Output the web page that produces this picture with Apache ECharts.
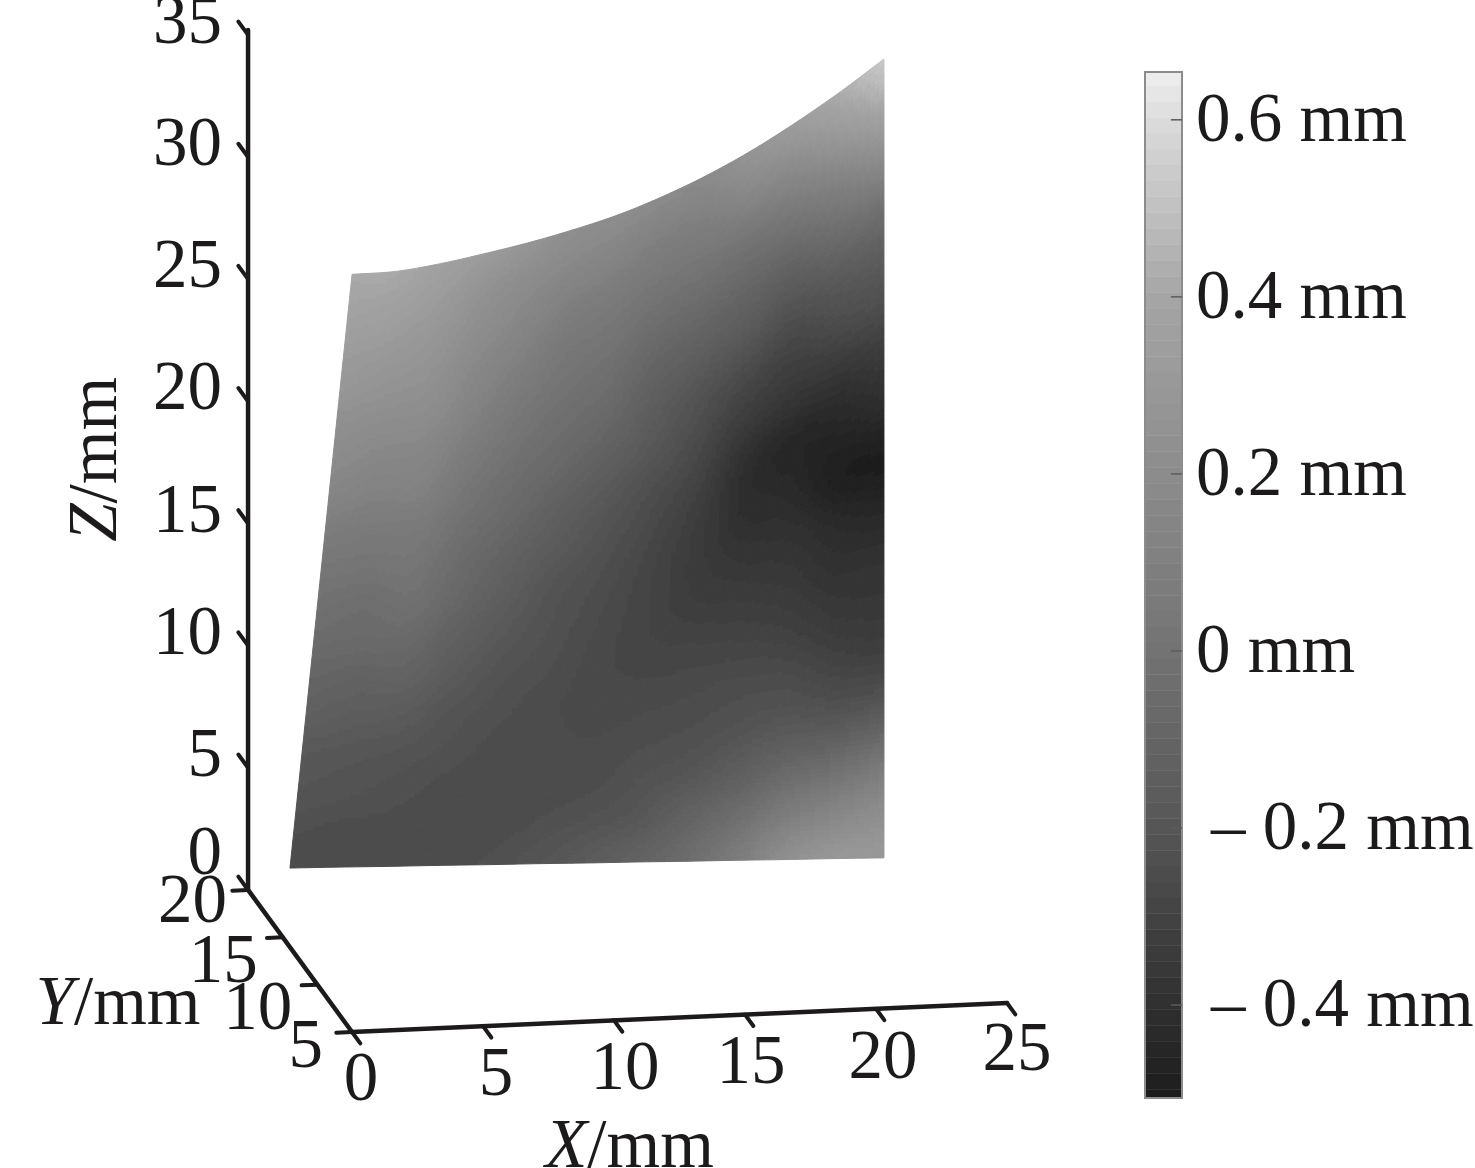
<!DOCTYPE html>
<html><head><meta charset="utf-8">
<style>html,body{margin:0;padding:0;background:#fff}#c{width:1475px;height:1168px;filter:blur(0.6px)}</style>
<script src="https://cdn.jsdelivr.net/npm/echarts@6/dist/echarts.min.js"></script>
</head><body><div id="c"></div>
<script>
// ---- data ----
const xTicks = [0, 5, 10, 15, 20, 25];
const yTicks = [5, 10, 15, 20];
const zTicks = [0, 5, 10, 15, 20, 25, 30, 35];
const barTicks = [-0.4, -0.2, 0, 0.2, 0.4, 0.6];
const barLabels = ['– 0.4 mm', '– 0.2 mm', '0 mm', '0.2 mm', '0.4 mm', '0.6 mm'];
// surface outline in mm (on the Y = 20 plane of the projection)
const topX = [3.97, 5.65, 7.37, 9.05, 10.73, 12.40, 14.12, 15.80, 17.48, 19.20, 20.88, 22.60, 24.27];
const topZ = [25.01, 25.05, 25.29, 25.62, 25.99, 26.43, 26.96, 27.62, 28.40, 29.34, 30.40, 31.59, 32.86];
const bottomX = [1.60, 3.49, 5.38, 7.27, 9.16, 11.05, 12.93, 14.82, 16.71, 18.60, 20.49, 22.38, 24.27];
const bottomZ = [0.82, 0.77, 0.71, 0.66, 0.60, 0.55, 0.49, 0.44, 0.38, 0.33, 0.27, 0.22, 0.16];
// deviation in mm: one list per column, left to right; each runs from the top edge down
const col00 = [.41,.38,.33,.29,.23,.19,.14,.07,.02,-.02,-.06,-.10,-.14,-.19,-.21,-.24,-.26];
const col01 = [.41,.36,.31,.26,.21,.16,.11,.05,.01,-.04,-.07,-.12,-.16,-.20,-.22,-.25,-.26];
const col02 = [.36,.32,.275,.24,.20,.15,.11,.05,.015,-.02,-.07,-.115,-.17,-.21,-.235,-.25,-.26];
const col03 = [.32,.25,.21,.165,.125,.075,.03,-.015,-.055,-.085,-.13,-.17,-.21,-.23,-.25,-.255,-.25];
const col04 = [.265,.20,.15,.10,.05,.01,-.035,-.07,-.115,-.15,-.185,-.215,-.235,-.25,-.26,-.255,-.24];
const col05 = [.215,.16,.09,.035,0,-.04,-.08,-.13,-.17,-.21,-.225,-.24,-.255,-.255,-.255,-.24,-.21];
const col06 = [.20,.135,.06,.01,-.035,-.08,-.13,-.185,-.22,-.245,-.26,-.27,-.27,-.26,-.25,-.22,-.17];
const col07 = [.185,.10,.03,-.035,-.10,-.15,-.19,-.24,-.27,-.29,-.295,-.29,-.27,-.25,-.225,-.19,-.115];
const col08 = [.185,.10,.02,-.06,-.135,-.21,-.255,-.295,-.33,-.34,-.33,-.295,-.265,-.24,-.20,-.115,-.05];
const col09 = [.265,.155,.01,-.085,-.17,-.26,-.33,-.40,-.41,-.38,-.34,-.30,-.255,-.22,-.15,-.04,.065];
const col10 = [.33,.185,.035,-.10,-.215,-.30,-.37,-.45,-.43,-.39,-.355,-.315,-.26,-.20,-.085,.065,.215];
const col11 = [.425,.285,.10,-.05,-.185,-.27,-.38,-.45,-.49,-.43,-.39,-.35,-.295,-.21,-.05,.135,.285];
const col12 = [.53,.40,.20,-.02,-.16,-.25,-.35,-.42,-.50,-.45,-.39,-.36,-.31,-.19,.02,.20,.30];
const columns = [col00,col01,col02,col03,col04,col05,col06,col07,col08,col09,col10,col11,col12];
const deviation = col00.map((_, r) => columns.map(c => c[r]));
// colour bar: value -> gray level
const rampValues = [-0.505, -0.4, -0.2, 0, 0.2, 0.4, 0.6, 0.654];
const rampGrays  = [28, 48, 86, 115, 140, 165, 220, 238];

// ---- styling ----
const FONT = '"Liberation Serif", "Times New Roman", serif';
const INK = '#1c1a1b', FS = 69, BAND = 0.018, SUB = 10;

function grayOf(v) {
  v = Math.round(v / BAND) * BAND;
  let g = rampGrays[rampGrays.length - 1];
  if (v <= rampValues[0]) g = rampGrays[0];
  else for (let i = 1; i < rampValues.length; i++) {
    if (v <= rampValues[i]) {
      const f = (v - rampValues[i - 1]) / (rampValues[i] - rampValues[i - 1]);
      g = rampGrays[i - 1] + f * (rampGrays[i] - rampGrays[i - 1]);
      break;
    }
  }
  g = Math.round(g);
  return 'rgb(' + g + ',' + g + ',' + g + ')';
}
// oblique projection of (X, Y, Z) mm on the flat scene axes
function project(X, Y, Z) {
  return [X - 0.2645 * (Y - 5), Z + 0.0475 * X + 0.3876 * (Y - 5)];
}
function cr(a, b, c, d, t) {
  return 0.5 * (2 * b + (c - a) * t + (2 * a - 5 * b + 4 * c - d) * t * t + (3 * b - a - 3 * c + d) * t * t * t);
}
function smooth1(arr, p) {
  const n = arr.length, i = Math.min(n - 2, Math.floor(p)), t = p - i;
  const a = i > 0 ? arr[i - 1] : 2 * arr[0] - arr[1];
  const d = i + 2 < n ? arr[i + 2] : 2 * arr[n - 1] - arr[n - 2];
  return cr(a, arr[i], arr[i + 1], d, t);
}
function smooth2(m, col, row) {
  const n = m.length, i = Math.min(n - 2, Math.floor(row)), t = row - i;
  const at = r => smooth1(m[Math.max(0, Math.min(n - 1, r))], col);
  return cr(at(i - 1), at(i), at(i + 1), at(i + 2), t);
}
function surfacePoint(col, row, api) {
  const t = 1 - row / (deviation.length - 1);
  const X = smooth1(bottomX, col) * (1 - t) + smooth1(topX, col) * t;
  const Z = smooth1(bottomZ, col) * (1 - t) + smooth1(topZ, col) * t;
  return api.coord(project(X, 20, Z));
}
const cells = [];
for (let r = 0; r < deviation.length - 1; r++)
  for (let c = 0; c < topX.length - 1; c++) cells.push([c, r]);

function renderCell(params, api) {
  const c = api.value(0), r = api.value(1), children = [];
  for (let a = 0; a < SUB; a++) for (let b = 0; b < SUB; b++) {
    const c0 = c + a / SUB, c1 = c + (a + 1) / SUB, r0 = r + b / SUB, r1 = r + (b + 1) / SUB;
    const col = grayOf(smooth2(deviation, (c0 + c1) / 2, (r0 + r1) / 2));
    children.push({
      type: 'polygon',
      shape: { points: [surfacePoint(c0, r0, api), surfacePoint(c1, r0, api), surfacePoint(c1, r1, api), surfacePoint(c0, r1, api)] },
      style: { fill: col, stroke: col, lineWidth: 1 }
    });
  }
  return { type: 'group', children };
}

// axis furniture, all positioned through project() and the scene axes
const LW = 4.5, TW = 4;
function line(api, a, b, w) {
  const p = api.coord(project(a[0], a[1], a[2])), q = api.coord(project(b[0], b[1], b[2]));
  return { type: 'line', shape: { x1: p[0], y1: p[1], x2: q[0], y2: q[1] }, style: { stroke: INK, lineWidth: w, lineCap: 'round' } };
}
function label(api, a, txt, dx, dy, align) {
  const p = api.coord(project(a[0], a[1], a[2]));
  return { type: 'text', x: p[0] + dx, y: p[1] + dy,
    style: { text: txt, font: FS + 'px ' + FONT, fill: INK, align: align, verticalAlign: 'middle' } };
}
const yLabelShift = { 20: [-21, 14], 15: [-25, 27], 10: [-25, 26], 5: [-29, 17] };
const xLabelShift = { 0: [9, 50], 5: [13, 51], 10: [11, 50], 15: [6, 50], 20: [7, 51], 25: [10, 49] };
function renderAxes(params, api) {
  const ch = [];
  ch.push(line(api, [0, 20, 0], [0, 20, 35.2], LW));
  ch.push(line(api, [0, 5, 0], [0, 20, 0], LW));
  ch.push(line(api, [0, 5, 0], [25, 5, 0], LW));
  zTicks.forEach(z => {
    ch.push(line(api, [0, 20, z], [0, 21.4, z], TW));
    ch.push(label(api, [0, 20, z], String(z), -26, z === 0 ? -34 : -10, 'right'));
  });
  yTicks.forEach(y => {
    ch.push(line(api, [0, y, 0], [-0.6, y, 0], TW));
    ch.push(label(api, [0, y, 0], String(y), yLabelShift[y][0], yLabelShift[y][1], 'right'));
  });
  xTicks.forEach(x => {
    ch.push(line(api, [x, 5, 0], [x, 3.8, 0], TW));
    ch.push(label(api, [x, 5, 0], String(x), xLabelShift[x][0], xLabelShift[x][1], 'center'));
  });
  const rich = { i: { font: 'italic ' + FS + 'px ' + FONT, fill: INK }, n: { font: FS + 'px ' + FONT, fill: INK } };
  const title = (txt, pt, dx, dy, rot) => {
    const p = api.coord(project(pt[0], pt[1], pt[2]));
    return { type: 'text', x: p[0] + dx, y: p[1] + dy, rotation: rot,
      style: { text: txt, rich: rich, font: FS + 'px ' + FONT, fill: INK, align: 'center', verticalAlign: 'middle' } };
  };
  ch.push(title('{i|X}{n|/mm}', [12.5, 5, 0], -50, 131, 0));
  ch.push(title('{i|Y}{n|/mm}', [0, 12.5, 0], -182, 45, 0));
  ch.push(title('{i|Z}{n|/mm}', [0, 20, 17.5], -150, -3, Math.PI / 2));
  return { type: 'group', children: ch };
}

// colour bar
const BAR_MIN = -0.505, BAR_MAX = 0.654;
const barLevels = [];
for (let k = Math.ceil(BAR_MIN / BAND); k * BAND < BAR_MAX; k++) barLevels.push([0, k * BAND]);
function renderBarLevel(params, api) {
  const v = api.value(1);
  const p = api.coord([0, Math.min(BAR_MAX, v + BAND / 2)]), q = api.coord([1, Math.max(BAR_MIN, v - BAND / 2)]);
  const col = grayOf(v);
  return { type: 'rect', shape: { x: p[0], y: p[1], width: q[0] - p[0], height: q[1] - p[1] }, style: { fill: col, stroke: col, lineWidth: 0.5 } };
}
function renderBarFrame(params, api) {
  const p = api.coord([0, BAR_MAX]), q = api.coord([1, BAR_MIN]);
  const ch = [{ type: 'rect', shape: { x: p[0], y: p[1], width: q[0] - p[0], height: q[1] - p[1] }, style: { fill: 'none', stroke: '#8c8c8c', lineWidth: 2 } }];
  barTicks.forEach(t => {
    const a = api.coord([1, t]), b = api.coord([0.7, t]);
    ch.push({ type: 'line', shape: { x1: a[0], y1: a[1], x2: b[0], y2: b[1] }, style: { stroke: '#5c5c5c', lineWidth: 1.5 } });
  });
  return { type: 'group', children: ch };
}

const chart = echarts.init(document.getElementById('c'), null, { renderer: 'canvas' });
chart.setOption({
  animation: false,
  backgroundColor: '#fff',
  grid: [
    { left: 0, top: 0, width: 1475, height: 1168, containLabel: false, outerBoundsMode: 'none' },
    { left: 1145, top: 72, width: 37, height: 1026, containLabel: false, outerBoundsMode: 'none' }
  ],
  xAxis: [
    { type: 'value', gridIndex: 0, min: -13.435, max: 42.86, show: false },
    { type: 'value', gridIndex: 1, min: 0, max: 1, show: false }
  ],
  yAxis: [
    { type: 'value', gridIndex: 0, min: -5.567, max: 42.24, show: false },
    { type: 'value', gridIndex: 1, min: BAR_MIN, max: BAR_MAX, position: 'right', z: 6,
      splitLine: { show: false }, axisLine: { show: false }, axisTick: { show: false },
      axisLabel: { show: true, margin: 14, hideOverlap: false, customValues: barTicks, color: INK, fontFamily: FONT, fontSize: FS, padding: [6, 0, 0, 0],
        formatter: v => {
          const i = barTicks.findIndex(t => Math.abs(t - v) < 1e-6);
          return v < 0 ? '{neg|' + barLabels[i] + '}' : barLabels[i];
        },
        rich: { neg: { padding: [0, 0, 0, 15], fontFamily: FONT, fontSize: FS, color: INK } } } }
  ],
  series: [
    { type: 'custom', xAxisIndex: 0, yAxisIndex: 0, silent: true, clip: false, renderItem: renderCell, data: cells, z: 2 },
    { type: 'custom', xAxisIndex: 0, yAxisIndex: 0, silent: true, clip: false, renderItem: renderAxes, data: [[0, 0]], z: 3 },
    { type: 'custom', xAxisIndex: 1, yAxisIndex: 1, silent: true, clip: false, renderItem: renderBarLevel, data: barLevels, z: 2 },
    { type: 'custom', xAxisIndex: 1, yAxisIndex: 1, silent: true, clip: false, renderItem: renderBarFrame, data: [[0, 0]], z: 3 }
  ]
});
</script></body></html>
